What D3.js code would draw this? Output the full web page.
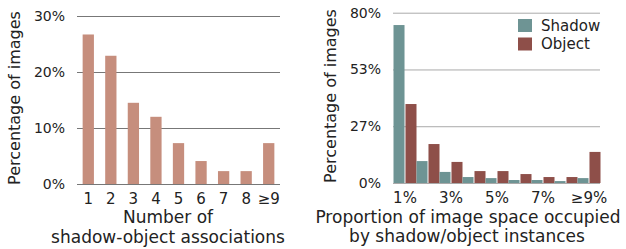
<!DOCTYPE html>
<html>
<head>
<meta charset="utf-8">
<script src="https://cdn.jsdelivr.net/npm/d3@7"></script>
<style>
  body { margin: 0; background: #fff; }
  text { font-family: "DejaVu Sans", sans-serif; fill: #222; }
</style>
</head>
<body>
<div id="chart"></div>
<script>
// data
var countCats = ["1", "2", "3", "4", "5", "6", "7", "8", "≥9"];
var countVals = [0.267, 0.229, 0.145, 0.120, 0.073, 0.041, 0.023, 0.023, 0.073];
var countTicks = [0, 0.1, 0.2, 0.3];

var spaceCats = ["1%", "2%", "3%", "4%", "5%", "6%", "7%", "8%", "≥9%"];
var seriesNames = ["Shadow", "Object"];
var shadowVals = [0.742, 0.103, 0.052, 0.028, 0.023, 0.014, 0.014, 0.009, 0.023];
var objectVals = [0.371, 0.183, 0.099, 0.056, 0.056, 0.042, 0.028, 0.028, 0.146];
var spaceTicks = [0, 0.8 / 3, 1.6 / 3, 0.8];
var spaceTickLabels = ["0%", "27%", "53%", "80%"];

var colors = {count: "#c68e7d", Shadow: "#6e9494", Object: "#8e4f49"};

var svg = d3.select("#chart")
  .append("svg")
    .attr("width", 626)
    .attr("height", 249);

// ---------- left chart ----------
var left = svg.append("g");

var x1 = d3.scaleBand()
  .domain(countCats)
  .range([77, 280])
  .paddingInner(0.5)
  .paddingOuter(0.25);

var y1 = d3.scaleLinear()
  .domain([0, 0.3])
  .range([184, 16]);

left.append("g")
  .attr("transform", "translate(77,0)")
  .call(d3.axisLeft(y1).tickValues(countTicks).tickFormat(d3.format(".0%")).tickSize(-203).tickPadding(12))
  .call(g => g.select(".domain").remove())
  .call(g => g.selectAll("line").attr("stroke", "#777"))
  .call(g => g.selectAll("text").style("font-size", "14px").attr("fill", "#222"));

left.selectAll("rect.bar")
  .data(countVals)
  .enter()
  .append("rect")
    .attr("class", "bar")
    .attr("x", (d, i) => x1(countCats[i]))
    .attr("y", d => y1(d))
    .attr("width", x1.bandwidth())
    .attr("height", d => y1(0) - y1(d))
    .attr("fill", colors.count);

left.append("g")
  .attr("transform", "translate(0,184)")
  .call(d3.axisBottom(x1).tickSize(0).tickPadding(9))
  .call(g => g.select(".domain").remove())
  .call(g => g.selectAll("text").style("font-size", "15px").attr("fill", "#222"));

left.append("text")
  .attr("transform", "translate(20,98) rotate(-90)")
  .attr("text-anchor", "middle")
  .style("font-size", "16px")
  .text("Percentage of images");

left.append("text")
  .attr("x", 168).attr("y", 223)
  .attr("text-anchor", "middle")
  .style("font-size", "17px")
  .text("Number of");

left.append("text")
  .attr("x", 168).attr("y", 243)
  .attr("text-anchor", "middle")
  .style("font-size", "17px")
  .text("shadow-object associations");

// ---------- right chart ----------
var right = svg.append("g");

var x2 = d3.scaleBand()
  .domain(spaceCats)
  .range([393.5, 600.5]);

var xs = d3.scaleBand()
  .domain(seriesNames)
  .range([0, x2.bandwidth()])
  .paddingInner(0.08);

var y2 = d3.scaleLinear()
  .domain([0, 0.8])
  .range([183, 12.7]);

right.append("g")
  .attr("transform", "translate(393,0)")
  .call(d3.axisLeft(y2).tickValues(spaceTicks).tickFormat((d, i) => spaceTickLabels[i]).tickSize(-207).tickPadding(12))
  .call(g => g.select(".domain").remove())
  .call(g => g.selectAll("line").attr("stroke", "#aaa"))
  .call(g => g.selectAll("text").style("font-size", "14px").attr("fill", "#222"));

var table = spaceCats.map((c, i) => ({cat: c, Shadow: shadowVals[i], Object: objectVals[i]}));

right.selectAll("g.grp")
  .data(table)
  .enter()
  .append("g")
    .attr("class", "grp")
    .attr("transform", d => `translate(${x2(d.cat)},0)`)
  .selectAll("rect")
  .data(d => seriesNames.map(s => ({key: s, value: d[s]})))
  .enter()
  .append("rect")
    .attr("x", d => xs(d.key))
    .attr("y", d => y2(d.value))
    .attr("width", xs.bandwidth())
    .attr("height", d => y2(0) - y2(d.value))
    .attr("fill", d => colors[d.key]);

right.append("g")
  .attr("transform", "translate(0,183)")
  .call(d3.axisBottom(x2).tickValues(spaceCats.filter((d, i) => i % 2 === 0)).tickSize(0).tickPadding(9))
  .call(g => g.select(".domain").remove())
  .call(g => g.selectAll("text").style("font-size", "15px").attr("fill", "#222"));

right.append("text")
  .attr("transform", "translate(336,96) rotate(-90)")
  .attr("text-anchor", "middle")
  .style("font-size", "16px")
  .text("Percentage of images");

right.append("text")
  .attr("x", 468).attr("y", 223)
  .attr("text-anchor", "middle")
  .style("font-size", "17px")
  .text("Proportion of image space occupied");

right.append("text")
  .attr("x", 467).attr("y", 242)
  .attr("text-anchor", "middle")
  .style("font-size", "17px")
  .text("by shadow/object instances");

// legend
var legend = right.selectAll("g.legend")
  .data(seriesNames)
  .enter()
  .append("g")
    .attr("class", "legend")
    .attr("transform", (d, i) => `translate(518,${19 + i * 18.5})`);

legend.append("rect")
  .attr("width", 14)
  .attr("height", 13)
  .attr("fill", d => colors[d]);

legend.append("text")
  .attr("x", 23)
  .attr("y", 11.5)
  .style("font-size", "15px")
  .text(d => d);
</script>
</body>
</html>
